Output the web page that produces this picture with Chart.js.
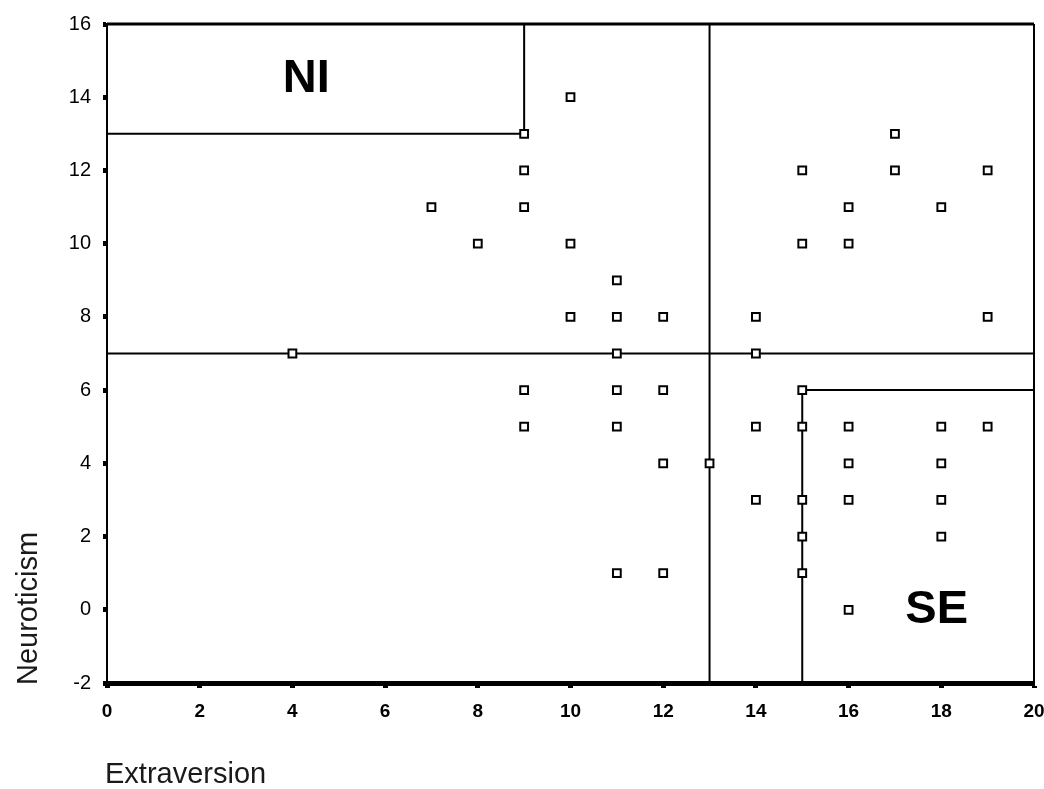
<!DOCTYPE html>
<html>
<head>
<meta charset="utf-8">
<script src="https://cdn.jsdelivr.net/npm/chart.js@4/dist/chart.umd.min.js"></script>
<style>
  html,body{ margin:0; padding:0; background:#fff; }
  #wrap{ width:1044px; height:789px; }
</style>
</head>
<body>
<div id="wrap"><canvas id="chartScatter" width="1044" height="789"></canvas></div>
<script>
// data
const extraversion = [4,7,8,9,9,9,9,9,10,10,10,11,11,11,11,11,11,12,12,12,12,13,14,14,14,14,15,15,15,15,15,15,15,16,16,16,16,16,16,17,17,18,18,18,18,18,19,19,19];
const neuroticism  = [7,11,10,13,12,11,6,5,14,10,8,9,8,7,6,5,1,8,6,4,1,4,8,7,5,3,12,10,6,5,3,2,1,11,10,5,4,3,0,13,12,11,5,4,3,2,12,8,5];

const xTicks = [0,2,4,6,8,10,12,14,16,18,20];
const yTicks = [-2,0,2,4,6,8,10,12,14,16];

const splitX = 13;   // vertical divider
const splitY = 7;    // horizontal divider
const niBox = [[0,13],[9,13],[9,16]];
const seBox = [[15,-2],[15,6],[20,6]];

const regionNames = ['NI','SE'];
const regionX = [4.3, 17.9];
const regionY = [14.5, 0.0];

const xMin = xTicks[0], xMax = xTicks[xTicks.length-1];
const yMin = yTicks[0], yMax = yTicks[yTicks.length-1];

function pts(arr){ return arr.map(p=>({x:p[0], y:p[1]})); }
function lineSet(data){
  return { data, showLine:true, borderColor:'#000', borderWidth:2, pointRadius:0, fill:false, tension:0 };
}

const labelsPlugin = {
  id:'labelsPlugin',
  beforeDatasetsDraw(chart){
    const {ctx, chartArea:a} = chart;
    ctx.save();
    ctx.strokeStyle = '#000';
    ctx.lineWidth = 3;
    ctx.beginPath();
    ctx.moveTo(a.left, a.top); ctx.lineTo(a.right, a.top);
    ctx.stroke();
    ctx.lineWidth = 2;
    ctx.beginPath();
    ctx.moveTo(a.right, a.top); ctx.lineTo(a.right, a.bottom);
    ctx.stroke();
    ctx.restore();
  },
  afterDraw(chart){
    const {ctx} = chart;
    const xs = chart.scales.x, ys = chart.scales.y;
    ctx.save();
    ctx.fillStyle = '#000';
    ctx.font = 'bold 47px "Liberation Sans", Arial, sans-serif';
    ctx.textAlign = 'center';
    ctx.textBaseline = 'middle';
    regionNames.forEach((t,i)=>{
      ctx.fillText(t, xs.getPixelForValue(regionX[i]), ys.getPixelForValue(regionY[i]));
    });
    // axis titles
    ctx.fillStyle = '#1a1a1a';
    ctx.font = '29px "Liberation Sans", Arial, sans-serif';
    ctx.textAlign = 'left';
    ctx.textBaseline = 'alphabetic';
    ctx.fillText('Extraversion', 105, 783);
    ctx.translate(37, 685);
    ctx.rotate(-Math.PI/2);
    ctx.fillText('Neuroticism', 0, 0);
    ctx.restore();
  }
};

new Chart(document.getElementById('chartScatter'), {
  type:'scatter',
  data:{
    datasets:[
      { data: extraversion.map((v,i)=>({x:v, y:neuroticism[i]})),
        pointStyle:'rect', pointRadius:5.5, pointHoverRadius:5.5,
        pointBackgroundColor:'#fff', pointBorderColor:'#000', pointBorderWidth:2 },
      lineSet([{x:splitX,y:yMin},{x:splitX,y:yMax}]),
      lineSet([{x:xMin,y:splitY},{x:xMax,y:splitY}]),
      lineSet(pts(niBox)),
      lineSet(pts(seBox))
    ]
  },
  options:{
    responsive:false,
    animation:false,
    layout:{ padding:{ top:18, right:10, left:0, bottom:0 } },
    plugins:{ legend:{display:false}, tooltip:{enabled:false} },
    scales:{
      x:{
        type:'linear', min:xMin, max:xMax,
        afterFit(s){ s.height = 106; s.paddingRight = 0; s.paddingLeft = 0; },
        afterBuildTicks(s){ s.ticks = xTicks.map(v=>({value:v})); },
        border:{ display:true, color:'#000', width:5 },
        grid:{ drawOnChartArea:false, drawTicks:true, tickLength:5, tickWidth:5, tickColor:'#000' },
        ticks:{ color:'#000', padding:12, font:{ family:'"Liberation Sans", Arial, sans-serif', size:19, weight:'bold' } }
      },
      y:{
        type:'linear', min:yMin, max:yMax,
        afterFit(s){ s.width = 107; },
        afterBuildTicks(s){ s.ticks = yTicks.map(v=>({value:v})); },
        border:{ display:true, color:'#000', width:2 },
        grid:{ drawOnChartArea:false, drawTicks:true, tickLength:4, tickWidth:5, tickColor:'#000' },
        ticks:{ color:'#000', padding:12, font:{ family:'"Liberation Sans", Arial, sans-serif', size:20 } }
      }
    }
  },
  plugins:[labelsPlugin]
});
</script>
</body>
</html>
